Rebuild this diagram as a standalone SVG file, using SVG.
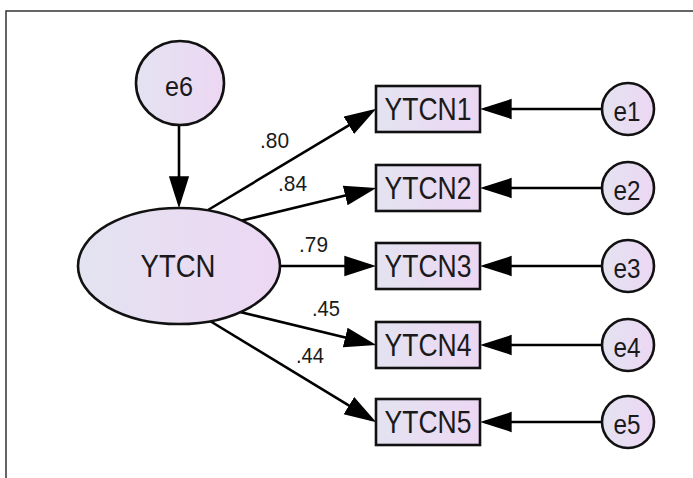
<svg xmlns="http://www.w3.org/2000/svg" width="693" height="478" viewBox="0 0 693 478">
  <defs>
    <linearGradient id="fillGrad" x1="0" y1="0" x2="1" y2="0">
      <stop offset="0" stop-color="#e3e3f1"/>
      <stop offset="1" stop-color="#edd7f3"/>
    </linearGradient>
    <marker id="head" markerUnits="userSpaceOnUse" markerWidth="32" markerHeight="22" viewBox="0 0 30 19" refX="25" refY="9.5" orient="auto">
      <path d="M0,0 L30,9.5 L0,19 Z" fill="#000"/>
    </marker>
    <style>
      .shape { fill: url(#fillGrad); stroke: #111; stroke-width: 2.6; }
      .lbl { font-family: "Liberation Sans", Arial, sans-serif; fill: #1a1a1a; text-anchor: middle; }
      .num { font-family: "Liberation Sans", Arial, sans-serif; fill: #1a1a1a; font-size: 22px; }
      .arrow { stroke: #000; stroke-width: 2.6; fill: none; marker-end: url(#head); }
      .frame { stroke: #333; stroke-width: 1.5; fill: none; }
    </style>
  </defs>

  <path class="frame" d="M6,478 L6,11 L693,11"/>

  <g id="connectors">
    <line class="arrow" x1="179" y1="125" x2="179" y2="203"/>
    <line class="arrow" x1="208" y1="210" x2="371.7" y2="111.6"/>
    <line class="arrow" x1="240" y1="221" x2="371.1" y2="189.2"/>
    <line class="arrow" x1="280" y1="266" x2="371" y2="266"/>
    <line class="arrow" x1="240" y1="312" x2="371.1" y2="343.8"/>
    <line class="arrow" x1="210" y1="321" x2="371.7" y2="419.4"/>
    <line class="arrow" x1="602" y1="109" x2="485" y2="109"/>
    <line class="arrow" x1="602" y1="188" x2="485" y2="188"/>
    <line class="arrow" x1="602" y1="266" x2="485" y2="266"/>
    <line class="arrow" x1="602" y1="345" x2="485" y2="345"/>
    <line class="arrow" x1="602" y1="422" x2="485" y2="422"/>
    <text class="num" x="260" y="148" textLength="29" lengthAdjust="spacingAndGlyphs">.80</text>
    <text class="num" x="278" y="191" textLength="29" lengthAdjust="spacingAndGlyphs">.84</text>
    <text class="num" x="299" y="252" textLength="29" lengthAdjust="spacingAndGlyphs">.79</text>
    <text class="num" x="312" y="316" textLength="28" lengthAdjust="spacingAndGlyphs">.45</text>
    <text class="num" x="296" y="363" textLength="28" lengthAdjust="spacingAndGlyphs">.44</text>
  </g>

  <g id="e6">
    <ellipse class="shape" cx="180" cy="83" rx="44" ry="42"/>
    <text class="lbl" x="179" y="96" font-size="27" textLength="28" lengthAdjust="spacingAndGlyphs">e6</text>
  </g>

  <g id="YTCN">
    <ellipse class="shape" cx="179" cy="266" rx="101" ry="58"/>
    <text class="lbl" x="178" y="277" font-size="32" textLength="75" lengthAdjust="spacingAndGlyphs">YTCN</text>
  </g>

  <g id="YTCN1">
    <rect class="shape" x="376" y="86" width="104" height="46"/>
    <text class="lbl" x="428" y="120" font-size="31" textLength="87" lengthAdjust="spacingAndGlyphs">YTCN1</text>
  </g>
  <g id="YTCN2">
    <rect class="shape" x="376" y="165" width="104" height="46"/>
    <text class="lbl" x="428" y="199" font-size="31" textLength="87" lengthAdjust="spacingAndGlyphs">YTCN2</text>
  </g>
  <g id="YTCN3">
    <rect class="shape" x="376" y="243" width="104" height="46"/>
    <text class="lbl" x="428" y="277" font-size="31" textLength="87" lengthAdjust="spacingAndGlyphs">YTCN3</text>
  </g>
  <g id="YTCN4">
    <rect class="shape" x="376" y="322" width="104" height="46"/>
    <text class="lbl" x="428" y="356" font-size="31" textLength="87" lengthAdjust="spacingAndGlyphs">YTCN4</text>
  </g>
  <g id="YTCN5">
    <rect class="shape" x="376" y="399" width="104" height="46"/>
    <text class="lbl" x="428" y="433" font-size="31" textLength="87" lengthAdjust="spacingAndGlyphs">YTCN5</text>
  </g>

  <g id="e1">
    <ellipse class="shape" cx="628" cy="109" rx="26" ry="26"/>
    <text class="lbl" x="627" y="121" font-size="28" textLength="27" lengthAdjust="spacingAndGlyphs">e1</text>
  </g>
  <g id="e2">
    <ellipse class="shape" cx="628" cy="188" rx="26" ry="26"/>
    <text class="lbl" x="627" y="200" font-size="28" textLength="27" lengthAdjust="spacingAndGlyphs">e2</text>
  </g>
  <g id="e3">
    <ellipse class="shape" cx="628" cy="266" rx="26" ry="26"/>
    <text class="lbl" x="627" y="278" font-size="28" textLength="27" lengthAdjust="spacingAndGlyphs">e3</text>
  </g>
  <g id="e4">
    <ellipse class="shape" cx="628" cy="345" rx="26" ry="26"/>
    <text class="lbl" x="627" y="357" font-size="28" textLength="27" lengthAdjust="spacingAndGlyphs">e4</text>
  </g>
  <g id="e5">
    <ellipse class="shape" cx="628" cy="422" rx="26" ry="26"/>
    <text class="lbl" x="627" y="434" font-size="28" textLength="27" lengthAdjust="spacingAndGlyphs">e5</text>
  </g>
</svg>
